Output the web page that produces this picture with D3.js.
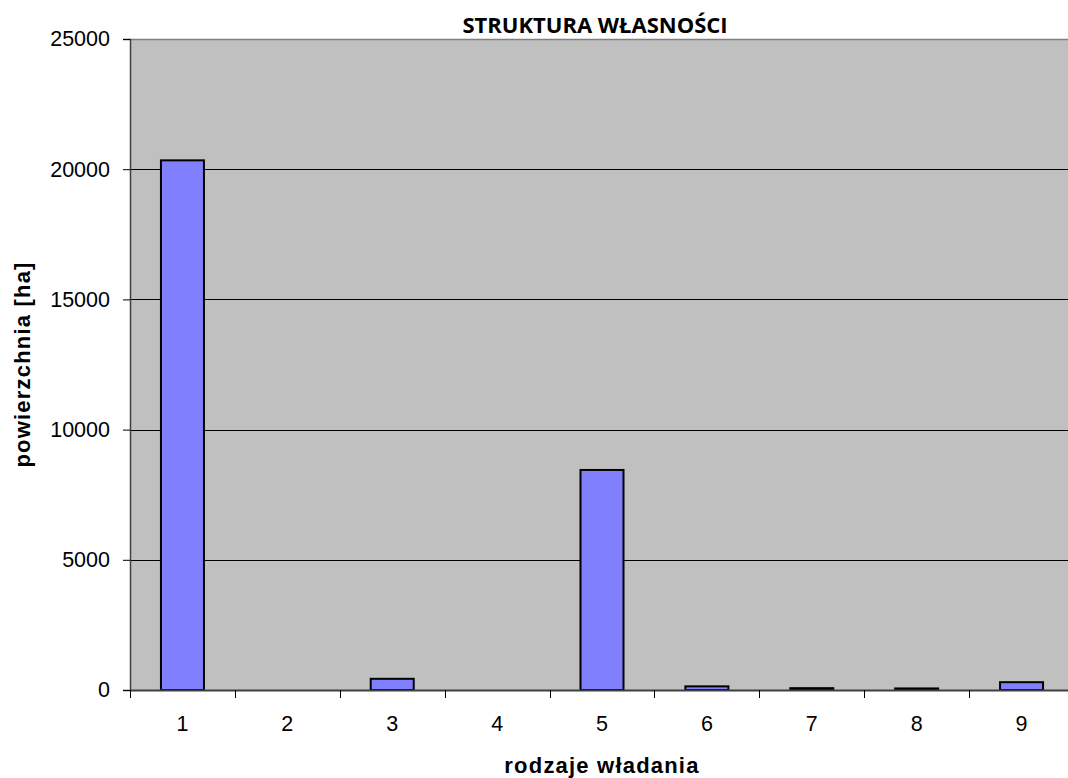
<!DOCTYPE html>
<html>
<head>
<meta charset="utf-8">
<script src="https://cdn.jsdelivr.net/npm/d3@7"></script>
<style>
  body { margin: 0; background: #fff; }
  svg { display: block; }
</style>
</head>
<body>
<div class="chart"></div>
<script>
// dane
const categories = ['1', '2', '3', '4', '5', '6', '7', '8', '9'];
const values = [20340, 0, 430, 0, 8450, 140, 70, 60, 300];
const yTicks = [0, 5000, 10000, 15000, 20000, 25000];

const width = 1068;
const height = 778;
const margin = { top: 39, right: -6, bottom: 88, left: 130 };

const svg = d3.select('.chart').append('svg')
    .attr('width', width)
    .attr('height', height);

const plotW = width - margin.left - margin.right;
const plotH = height - margin.top - margin.bottom;

const g = svg.append('g')
    .attr('transform', 'translate(' + margin.left + ',' + margin.top + ')');

const x = d3.scaleBand()
    .domain(categories)
    .range([0, plotW])
    .padding(0);

const y = d3.scaleLinear()
    .domain([0, 25000])
    .range([plotH, 0]);

const rows = categories.map((c, i) => ({ cat: c, value: values[i] }));

// tło
g.append('rect')
    .attr('width', plotW)
    .attr('height', plotH)
    .attr('fill', '#c0c0c0');

g.append('line')
    .attr('x1', 0).attr('x2', plotW)
    .attr('y1', 0.5).attr('y2', 0.5)
    .attr('stroke', '#808080')
    .attr('stroke-width', 1.5);

// linie siatki
g.append('g')
    .selectAll('line')
    .data(yTicks.filter(d => d > 0 && d < 25000))
    .enter()
    .append('line')
    .attr('x1', 0)
    .attr('x2', plotW)
    .attr('y1', d => Math.round(y(d)) + 0.5)
    .attr('y2', d => Math.round(y(d)) + 0.5)
    .attr('stroke', '#000')
    .attr('stroke-width', 1);

// słupki
const barW = x.bandwidth() * 0.41;
g.append('g')
    .selectAll('rect')
    .data(rows.filter(d => d.value > 0))
    .enter()
    .append('rect')
    .attr('x', d => x(d.cat) + (x.bandwidth() - barW) / 2)
    .attr('y', d => y(d.value))
    .attr('width', barW)
    .attr('height', d => plotH - y(d.value))
    .attr('fill', '#8080ff')
    .attr('stroke', '#000')
    .attr('stroke-width', 2);

// oś Y
const yAxis = g.append('g')
    .call(d3.axisLeft(y).tickValues(yTicks).tickSize(7).tickPadding(13).tickFormat(d3.format('d')));
yAxis.selectAll('text')
    .style('font-family', '"Liberation Sans", Arial, sans-serif')
    .style('font-size', '21.5px')
    .attr('fill', '#000');
yAxis.select('.domain').attr('stroke', '#404040').attr('stroke-width', 1.5);
yAxis.selectAll('.tick line').attr('stroke', '#000');

// oś X
const xAxis = g.append('g')
    .attr('transform', 'translate(0,' + plotH + ')')
    .call(d3.axisBottom(x).tickSize(0).tickPadding(26));
xAxis.select('.domain').attr('stroke', '#404040').attr('stroke-width', 2);
xAxis.selectAll('text')
    .style('font-family', '"Liberation Sans", Arial, sans-serif')
    .style('font-size', '21.5px')
    .attr('fill', '#000');

g.append('g')
    .selectAll('line')
    .data(categories)
    .enter()
    .append('line')
    .attr('x1', d => Math.round(x(d)) + 0.5)
    .attr('x2', d => Math.round(x(d)) + 0.5)
    .attr('y1', plotH)
    .attr('y2', plotH + 8)
    .attr('stroke', '#000');

// tytuły
svg.append('text')
    .attr('x', 595)
    .attr('y', 33)
    .attr('text-anchor', 'middle')
    .style('font-family', '"Open Sans", sans-serif')
    .style('font-weight', 'bold')
    .style('font-size', '22px')
    .text('STRUKTURA WŁASNOŚCI');

svg.append('text')
    .attr('x', margin.left + plotW / 2)
    .attr('y', 773)
    .attr('text-anchor', 'middle')
    .style('font-family', '"Liberation Sans", Arial, sans-serif')
    .style('font-weight', 'bold')
    .style('font-size', '22px')
    .style('letter-spacing', '1.2px')
    .text('rodzaje władania');

svg.append('text')
    .attr('transform', 'translate(30,' + (margin.top + plotH / 2) + ') rotate(-90)')
    .attr('text-anchor', 'middle')
    .style('font-family', '"Liberation Sans", Arial, sans-serif')
    .style('font-weight', 'bold')
    .style('font-size', '22px')
    .style('letter-spacing', '1.2px')
    .text('powierzchnia [ha]');
</script>
</body>
</html>
